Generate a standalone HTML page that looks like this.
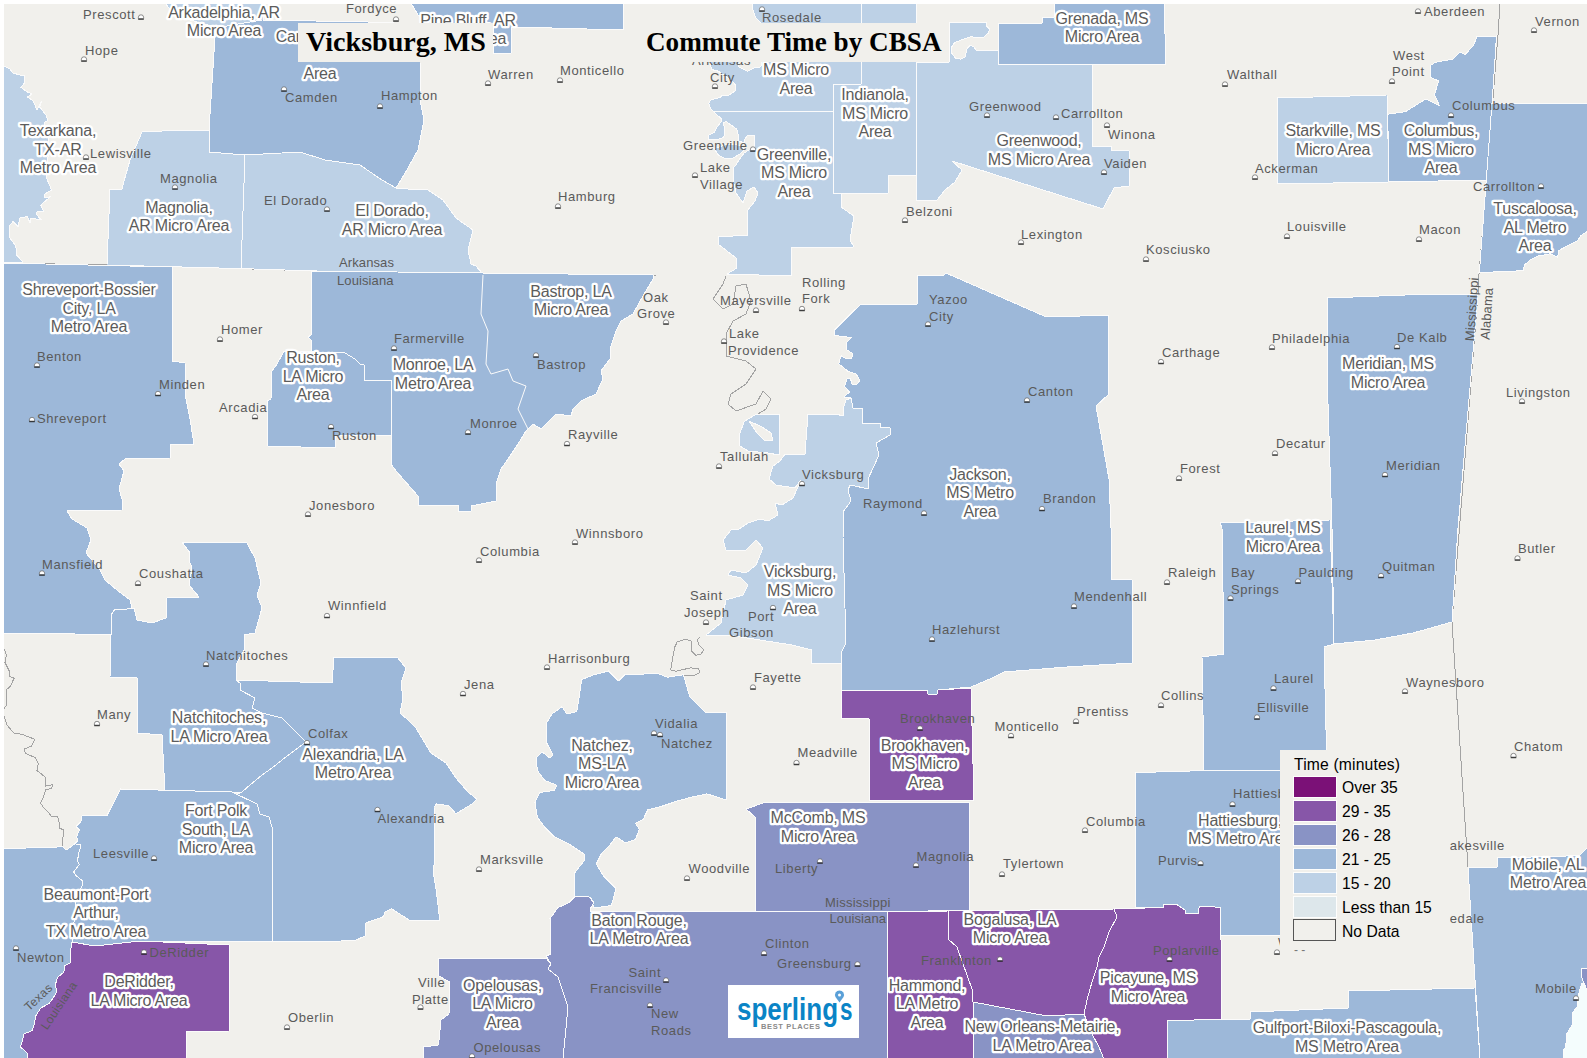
<!DOCTYPE html><html><head><meta charset="utf-8"><style>html,body{margin:0;padding:0;background:#fff;}svg{display:block;}.cb{font-family:"Liberation Sans",sans-serif;font-size:16px;fill:#5c5c5c;stroke:#fff;stroke-width:4.6px;stroke-linejoin:round;paint-order:stroke fill;text-anchor:middle;letter-spacing:-0.2px}.ct{font-family:"Liberation Sans",sans-serif;font-size:13px;fill:#5a5a5a;letter-spacing:0.6px}.ti{font-family:"Liberation Serif",serif;font-size:27px;font-weight:bold;fill:#000}.lg{font-family:"Liberation Sans",sans-serif;font-size:15.7px;fill:#000}</style></head><body>
<svg width="1587" height="1058" viewBox="0 0 1587 1058">
<rect x="4" y="4" width="1583" height="1054" fill="#f1f0ec"/>
<polyline points="3,263 107,265 230,268.3 310,270.8 400,273.4 483.5,274.6 656,276 726,276" fill="none" stroke="#a3a3a3" stroke-width="1" shape-rendering="crispEdges"/>
<polyline points="726,276 723,284 713,299 723,309 733,304 736,286 746,284 751,301 746,314 733,321 726,334 726,356 746,361 756,369 746,384 731,394 728,404 736,411 756,404 763,391 771,399 766,409 758,414" fill="none" stroke="#a3a3a3" stroke-width="1" shape-rendering="crispEdges"/>
<polyline points="699.7,636.8 697.7,639.4 698.4,644.7 703.7,650 701,654 695.7,655.3 691.8,651.3 691,640.7 685,639.4 677.2,642 674.6,647.4 670.6,670 675.9,671.2 690.4,667.9 698.4,668.5 699.7,672.5 694.4,675.2 683.8,675.2" fill="none" stroke="#a3a3a3" stroke-width="1" shape-rendering="crispEdges"/>
<polyline points="1500,3 1498,35 1479,274 1478,294 1452,622 1463,792 1468,867 1480,1059" fill="none" stroke="#a3a3a3" stroke-width="1" shape-rendering="crispEdges"/>
<polyline points="4.3,649 6.4,655.5 5,662.6 9.2,671 10,676.8 14.2,678.2 10,686.7 6.4,689.6 7,696.7 6.4,705.2 3,710" fill="none" stroke="#a3a3a3" stroke-width="1" shape-rendering="crispEdges"/>
<polyline points="4.3,716.5 7,725 14.2,733.5 22.7,734.3 27,736.4 34.8,739.2 31.2,746.3 24.1,749 25.5,753.4 35.5,757.7 38.3,763.3 36.9,770.4 45.5,777.4 45.5,786 52.9,784.7 51.6,788.4 45.5,789.7 43.6,797 40.6,803 43,806.9 48,811.8 51.6,816.7 57.8,816.7 59,821.6 59,827.8 64,830.2 62.7,838.8 62.7,846.2" fill="none" stroke="#a3a3a3" stroke-width="1" shape-rendering="crispEdges"/>
<polygon points="165,3 263,3 263,20 240,26 215,27 190,20 172,12" fill="#bdd1e6" stroke="#fbfbfb" stroke-width="1" stroke-linejoin="round" shape-rendering="crispEdges"/>
<polygon points="411,3 623,3 623,30 516,27 511,28 511,53 493,53 493,28 430,24 418,15" fill="#9db8d9" stroke="#fbfbfb" stroke-width="1" stroke-linejoin="round" shape-rendering="crispEdges"/>
<polygon points="215,28 262,20 368,22 420,24 420,62 421,105 424,120 418,150 404,175 396,188 382,180 360,165 325,160 300,152 245,155 209,152 209,130 215,37" fill="#9db8d9" stroke="#fbfbfb" stroke-width="1" stroke-linejoin="round" shape-rendering="crispEdges"/>
<polygon points="3,66 9.5,68.5 13,73 20,75 24.6,76 24.6,82.7 21,87.4 27.4,92 32,94 27.4,97 33,100.6 37,110 40,104 41.6,101.6 39.7,107 46,115 48,120.5 45,122 44.4,126 48,138 49,149 47,165 46.6,178 51.6,190 45,194 44,198 50.7,196.6 40.8,205 44,212 38,211 35.8,214 41.6,220 30.8,218 30,223 27.5,216.6 20,218 18,226.6 13,221.6 10,225 9,237 15.8,245.7 16.6,255 23,262 3,262" fill="#bdd1e6" stroke="#fbfbfb" stroke-width="1" stroke-linejoin="round" shape-rendering="crispEdges"/>
<polygon points="107,265 110,189 122,189 124,181 130,160 142,132 182,130 209,130 209,152 245,155 241,268.6" fill="#bdd1e6" stroke="#fbfbfb" stroke-width="1" stroke-linejoin="round" shape-rendering="crispEdges"/>
<polygon points="245,155 300,152 325,160 360,165 382,180 396,188 408,189 428,190 443,200 456,218 473,230 468,250 471,264 476,266 483.5,274.6 400,273.4 310,270.8 241,268.6" fill="#bdd1e6" stroke="#fbfbfb" stroke-width="1" stroke-linejoin="round" shape-rendering="crispEdges"/>
<polygon points="3,263 172,267 172,361 185,363 186,399 190,419 194,444 170,444 170,458 125,459 119,464 124,471 119,489 122,499 122,510 67,511 72,519 87,528 91,540 86,553 100,570 105,580 117,590 130,600 132,608 122,610 115,609 111,615 111,635 75,634 3,633" fill="#9db8d9" stroke="#fbfbfb" stroke-width="1" stroke-linejoin="round" shape-rendering="crispEdges"/>
<polygon points="311,271 311,335 308,337 311,340 311,353 345,353 355,359 360,364 364,365 364,380 391,380 391,464 396,471 418,496 418,505 458,505 458,511 471,511 471,506 496,501 496,484 501,469 508,459 518,444 526,431 533,424 541,429 546,424 556,414 571,416 573,409 581,401 596,394 603,379 601,371 610,359 611,346 616,331 621,321 633,314 643,296 653,279 653,275" fill="#9db8d9" stroke="#fbfbfb" stroke-width="1" stroke-linejoin="round" shape-rendering="crispEdges"/>
<polygon points="272,371 277,364 284,351 345,353 355,359 360,364 364,365 364,380 391,380 391,435 335,435 335,448 267,446 267,401 271,399" fill="#9db8d9" stroke="#fbfbfb" stroke-width="1" stroke-linejoin="round" shape-rendering="crispEdges"/>
<polygon points="111,615 115,609 122,610 132,608 134,608 137,620 152,623 166,618 167,598 199,597 189,585 192,568 189,560 190,553 182,542 247,543 255,558 261,583 257,595 262,608 255,633 244,635 245,648 237,663 236,680 240,683 240,690 255,698 252,708 262,713 282,718 297,733 306,742 282,760 272,768 262,775 250,785 242,792 232,793 165,792 162,735 137,733 137,678 110,677 111,635" fill="#9db8d9" stroke="#fbfbfb" stroke-width="1" stroke-linejoin="round" shape-rendering="crispEdges"/>
<polygon points="236,680 332,683 334,657 397,657 406,668 401,683 403,698 400,713 408,720 416,728 423,740 431,753 446,763 456,778 468,792 476.7,799 472,804 455.8,813.8 449,805.7 436.5,804 434,807 434.9,860 433,870 436.5,892.5 439.7,920 409,920 391.4,908.6 385,912 383.4,916.7 365.7,923 365,936 354.5,940.8 272,942 272,827 269,817 260,814 257,804 232,796 242,792 250,785 262,775 272,768 282,760 306,742 297,733 282,718 262,713 252,708 255,698 240,690 240,683" fill="#9db8d9" stroke="#fbfbfb" stroke-width="1" stroke-linejoin="round" shape-rendering="crispEdges"/>
<polygon points="120.5,789 232,792 257,804 260,814 269,817 272,827 272,942 140,941 95,946 72,942 77,892 81,888 83,884.3 82.3,880.6 76.2,875.7 73.7,872 79.3,864.6 77.4,861 78.7,853.6 81,845 75,843.7 77.4,841.3 76.8,836.4 79.3,830 76.2,826.5 81,821.6 81.7,816 107,815.5" fill="#9db8d9" stroke="#fbfbfb" stroke-width="1" stroke-linejoin="round" shape-rendering="crispEdges"/>
<polygon points="3,848.7 27,848 62.7,846.8 66.4,850 75,843.7 81,845 78.7,853.6 77.4,861 79.3,864.6 73.7,872 76.2,875.7 82.3,880.6 83,884.3 81,888 77,892 72,942 70,955 70.4,962.8 64.8,965.6 63.9,972 57.4,977.6 55.6,984 56.5,992.4 51.9,999.8 49,1003.5 40.7,1008 36,1015.6 34.3,1023.9 32.4,1030.4 24,1034 22.2,1041.5 20.4,1047 26.9,1052.6 27.8,1059 3,1059" fill="#9db8d9" stroke="#fbfbfb" stroke-width="1" stroke-linejoin="round" shape-rendering="crispEdges"/>
<polygon points="72,942 95,946 140,941 229,945 229,1031 186,1032 186,1059 27.8,1059 26.9,1052.6 20.4,1047 22.2,1041.5 24,1034 32.4,1030.4 34.3,1023.9 36,1015.6 40.7,1008 49,1003.5 51.9,999.8 56.5,992.4 55.6,984 57.4,977.6 63.9,972 64.8,965.6 70.4,962.8 70,955" fill="#8756a8" stroke="#fbfbfb" stroke-width="1" stroke-linejoin="round" shape-rendering="crispEdges"/>
<polygon points="581.6,679.6 593.9,674.7 608.6,671 618.4,681 624.6,674.7 657.7,673.5 667.6,677.2 683.5,674.7 689.7,696.8 702,709 705.6,712.8 726.5,712.8 726.5,800 706.9,793.9 689.7,797.6 677.4,801 662.6,806 647.9,809.8 643,819.7 635.6,823.3 639.3,829.5 635.6,839.3 625.8,843 616,836.9 608.6,846.7 601.2,854 596.3,863.9 603.7,876.2 616,888.4 613.5,898.3 611,905.6 594,908 591,898 574,896 574,873.7 584,861 584,854 569,844 554.6,836.9 544.7,827 537.4,817.2 535,802.5 539.8,792.6 554.6,790.2 557,785.3 544.7,780.4 537.4,770.5 536,758 542.3,752 549.6,758 553,755 547,743.5 546,724 552,714 562,706.7 566.8,714 576.7,711.6 579,698" fill="#9db8d9" stroke="#fbfbfb" stroke-width="1" stroke-linejoin="round" shape-rendering="crispEdges"/>
<polygon points="438.5,958 546,958 551,964 548,969 558,977 568,1007 563,1059 423,1059 423,1047 438.5,1045 441,1020 449,1014 449.7,982 438.5,975.7" fill="#8993c5" stroke="#fbfbfb" stroke-width="1" stroke-linejoin="round" shape-rendering="crispEdges"/>
<polygon points="590,911 755,911 887,912 888,1059 563,1059 568,1007 558,977 548,969 551,964 546,956 551,954 550,918.6 558,907.5 569,902.7 575,896.3 589,897 594,902.7 591,907.5" fill="#8993c5" stroke="#fbfbfb" stroke-width="1" stroke-linejoin="round" shape-rendering="crispEdges"/>
<polygon points="755,911 755,817 746,809 766,802 969,802 970,910 887,912" fill="#8993c5" stroke="#fbfbfb" stroke-width="1" stroke-linejoin="round" shape-rendering="crispEdges"/>
<polygon points="841,690 927,690 928,694 937,694 938,690 971,688 974,800 869,800 869,719 841,718" fill="#8756a8" stroke="#fbfbfb" stroke-width="1" stroke-linejoin="round" shape-rendering="crispEdges"/>
<polygon points="887,912 948,911 948,939 957,947 972,989 973,1002 974,1059 888,1059" fill="#8756a8" stroke="#fbfbfb" stroke-width="1" stroke-linejoin="round" shape-rendering="crispEdges"/>
<polygon points="948,911 1114,909 1117,917 1109,932 1104,947 1099,957 1097,967 1092,982 1087,1000 1084,1014 1047,1016 973,1002 972,989 957,947 948,939" fill="#8756a8" stroke="#fbfbfb" stroke-width="1" stroke-linejoin="round" shape-rendering="crispEdges"/>
<polygon points="973,1002 1047,1016 1084,1014 1092,1034 1099,1047 1104,1059 974,1059" fill="#8993c5" stroke="#fbfbfb" stroke-width="1" stroke-linejoin="round" shape-rendering="crispEdges"/>
<polygon points="1114,909 1163.8,907.4 1163.8,904.5 1176.6,904.5 1185,910 1185,913.6 1198,913.6 1199.3,906 1220.6,907.4 1222,1019.4 1167,1021 1167,1059 1104,1059 1099,1047 1092,1034 1084,1014 1087,1000 1092,982 1097,967 1099,957 1104,947 1109,932 1117,917" fill="#8756a8" stroke="#fbfbfb" stroke-width="1" stroke-linejoin="round" shape-rendering="crispEdges"/>
<polygon points="1167,1021 1222,1019 1250,1019 1250,1012 1348,1008 1348,991 1475,988 1480,1059 1167,1059" fill="#9db8d9" stroke="#fbfbfb" stroke-width="1" stroke-linejoin="round" shape-rendering="crispEdges"/>
<polygon points="1135.5,772.6 1203.5,770.6 1300,770.6 1300,935.7 1220.6,935.7 1220.6,907.4 1199.3,906 1198,913.6 1185,913.6 1185,910 1176.6,904.5 1163.8,904.5 1163.8,907.4 1135.5,907.4" fill="#9db8d9" stroke="#fbfbfb" stroke-width="1" stroke-linejoin="round" shape-rendering="crispEdges"/>
<polygon points="1220,523 1330,520 1334,644 1324,647 1327,770 1204,770 1202,657 1224,654 1222,528" fill="#9db8d9" stroke="#fbfbfb" stroke-width="1" stroke-linejoin="round" shape-rendering="crispEdges"/>
<polygon points="1327,298 1405,295 1478,294 1458,528 1452,622 1413,633 1375,640 1334,644 1332,528 1328,404" fill="#9db8d9" stroke="#fbfbfb" stroke-width="1" stroke-linejoin="round" shape-rendering="crispEdges"/>
<polygon points="917,276 944,275 946,273 1044,316 1080,316 1108,315 1109,394 1096,406 1109,479 1111,528 1111,579 1131,579 1132,580 1132,663 1067,667 1004,672 992,678 971,687 938,690 937,694 928,694 927,690 841,690 841,653 846,643 843,537 843,512 851,501 848,490 850,485 869,489 868,479 879,455 876,443 890,435 890,428 880,427 880,423 862,423 862,408 853,408 851,398 844,397 849.5,392 844.4,386.4 847.2,378.4 850.6,378.4 851.7,384 856.3,385 859.7,380.7 856.3,374 848.3,371.6 838.7,363.7 841,355.8 847.2,359 851.7,358 852.9,353.5 847,350 846,343.3 851.7,337.6 834.7,335.4 834.7,329.7 860.8,304 917,304" fill="#9db8d9" stroke="#fbfbfb" stroke-width="1" stroke-linejoin="round" shape-rendering="crispEdges"/>
<polygon points="808,414 836,414 843,416 843,409 846,400 851,398 853,408 862,408 862,423 880,423 880,427 890,428 890,435 876,443 879,455 868,479 869,489 850,485 848,490 851,501 843,512 843,537 846,643 841,653 841,663 811,663 812,650 792,645 728,635 706,635 721,623 726,600 743,595 748,585 741,578 728,575 731,570 746,573 756,565 763,548 756,540 746,550 726,550 723,540 731,530 739,529 748,523 760,519 768,521 778,515 775,503 782,505 793,498 801,480 795,488 776,485 769,479 773,466 780,461 785,454 805,454" fill="#bdd1e6" stroke="#fbfbfb" stroke-width="1" stroke-linejoin="round" shape-rendering="crispEdges"/>
<polygon points="757,414 779,414 779,455 768,453 748,451 740,446 739,436 744,422 748,419" fill="#bdd1e6" stroke="#fbfbfb" stroke-width="1" stroke-linejoin="round" shape-rendering="crispEdges"/>
<polygon points="749,421 757,433 765,441 773,440 771,433 762,427" fill="#f1f0ec" stroke="#fbfbfb" stroke-width="1" stroke-linejoin="round" shape-rendering="crispEdges"/>
<polygon points="713.6,111.7 833,111.7 833,193 841,194 841,207 854,216 850,240 854,247 791,248 791,276 727,274 737,268 736,258 718,244 718,237 748,235 747,211 755,201 758,193 754,187 747,191 743,203 736,193 733,179 733,168 736.3,164.4 739.7,158.8 744.2,153 749.3,149.7 754.4,146.3 754.4,135.5 747.6,135.5 744.8,139 744.8,142.9 738.5,141.2 738,133.8 736.8,129.3 726,121.3 723.8,122.5 724.4,133.8 723.8,137.2 717,140 708.5,139.5 709,135 714.7,132 716.4,128 721.5,121.3 721,118.5" fill="#bdd1e6" stroke="#fbfbfb" stroke-width="1" stroke-linejoin="round" shape-rendering="crispEdges"/>
<polygon points="714,148.5 725,145 735,144.5 742,146.3 744.2,149.7 739.7,154.2 731.7,158.8 725.5,158.8 718.7,155.4" fill="#bdd1e6" stroke="#fbfbfb" stroke-width="1" stroke-linejoin="round" shape-rendering="crispEdges"/>
<polygon points="752,3 861,3 861,84 833,84 833,111.7 713.6,111.7 710.6,108.6 708.9,103.5 710.6,100 720,97.5 722.5,95 729.3,95 735.3,90.7 735.3,84.8 732.7,81.4 718.3,71.2 711.5,69.5 709.8,60 738,60 738.7,66.9 747.2,71.2 754.8,67.8 760.8,66.9 762,60 760,22 756,18 753.5,12 752.5,7" fill="#bdd1e6" stroke="#fbfbfb" stroke-width="1" stroke-linejoin="round" shape-rendering="crispEdges"/>
<polygon points="861,3 916,3 916,175 888,175 888,193 833,193 833,84 861,84" fill="#bdd1e6" stroke="#fbfbfb" stroke-width="1" stroke-linejoin="round" shape-rendering="crispEdges"/>
<polygon points="916,62 949,62 949,22.7 986.4,22.7 986.7,26.3 989.5,29.2 988.4,33 983.9,37 981,38 973.6,37.7 972,36.3 969.7,37 961.2,40 954.4,42.8 951.5,47.3 952,53.5 955.5,58 960.6,59.2 965,57 967.4,47.9 970.8,45 974.2,47.3 976.5,50.7 998,50.7 998,64 1092,64 1092,146 1111,146 1111,150 1129,151 1129,186 1114,188 1103,209 952,161 962,170 955,182 945,190 937,200 916,200" fill="#bdd1e6" stroke="#fbfbfb" stroke-width="1" stroke-linejoin="round" shape-rendering="crispEdges"/>
<polygon points="1054,3 1164,3 1166,64 998,64 998,23 1042,23 1042,17 1054,17" fill="#9db8d9" stroke="#fbfbfb" stroke-width="1" stroke-linejoin="round" shape-rendering="crispEdges"/>
<polygon points="1277,98 1387,95 1389,182 1278,184" fill="#bdd1e6" stroke="#fbfbfb" stroke-width="1" stroke-linejoin="round" shape-rendering="crispEdges"/>
<polygon points="1387.7,114.2 1405.5,111.6 1426,98.9 1439.5,105.7 1434.4,94.6 1438.7,81 1431,77.6 1430.2,65.7 1435.3,62.3 1453,59 1460,52 1465,54.7 1473.5,45.3 1477,36.4 1496.5,36 1487,180 1389,182" fill="#9db8d9" stroke="#fbfbfb" stroke-width="1" stroke-linejoin="round" shape-rendering="crispEdges"/>
<polygon points="1492,103 1588,103 1588,231 1581,235.5 1577.4,240.8 1568.3,245.4 1558.5,250.7 1557.7,257.5 1550,253.7 1546.4,254.5 1538,256 1530.5,259.8 1524.5,265 1523,270.7 1479,272.6 1480,264" fill="#9db8d9" stroke="#fbfbfb" stroke-width="1" stroke-linejoin="round" shape-rendering="crispEdges"/>
<polygon points="1468,868 1497,867 1497,858 1579.6,855.6 1588,847 1588,1059 1480,1059" fill="#9db8d9" stroke="#fbfbfb" stroke-width="1" stroke-linejoin="round" shape-rendering="crispEdges"/>
<polygon points="1588,982 1581.5,984 1577.8,997 1577.8,1006 1573,1012 1572,1025 1566.7,1034 1565.7,1047 1563,1050 1563,1059 1588,1059" fill="#f4fdfd" stroke="#fbfbfb" stroke-width="1" stroke-linejoin="round" shape-rendering="crispEdges"/>
<polygon points="1581.5,969 1588,968 1588,992 1583,981 1581.5,977" fill="#8993c5" stroke="#fbfbfb" stroke-width="1" stroke-linejoin="round" shape-rendering="crispEdges"/>
<polyline points="483,275 481,314 488,331 486,364 491,374 508,369 513,381 526,386 518,409 528,429" fill="none" stroke="#fbfbfb" stroke-width="1"/>
<text class="ct" x="339" y="267" style="letter-spacing:0.1px">Arkansas</text>
<text class="ct" x="337" y="285" style="letter-spacing:0.1px">Louisiana</text>
<text class="ct" x="825" y="907" style="letter-spacing:0.25px">Mississippi</text>
<text class="ct" x="829.5" y="923" style="letter-spacing:0.1px">Louisiana</text>
<text class="ct" transform="translate(1474,341.5) rotate(-86)" x="0" y="0" style="letter-spacing:0.1px">Mississippi</text>
<text class="ct" transform="translate(1489.5,340) rotate(-86)" x="0" y="0" style="letter-spacing:0.1px">Alabama</text>
<text class="ct" transform="translate(29,1011.5) rotate(-43)" x="0" y="0" style="font-size:12px;letter-spacing:0.4px">Texas</text>
<text class="ct" transform="translate(47,1030.5) rotate(-56)" x="0" y="0" style="font-size:12px;letter-spacing:0.4px">Louisiana</text>
<text class="ct" x="83" y="19">Prescott</text>
<text class="ct" x="85" y="55">Hope</text>
<text class="ct" x="90" y="158">Lewisville</text>
<text class="ct" x="160" y="183">Magnolia</text>
<text class="ct" x="264" y="205">El Dorado</text>
<text class="ct" x="285" y="102">Camden</text>
<text class="ct" x="381" y="100">Hampton</text>
<text class="ct" x="346" y="13">Fordyce</text>
<text class="ct" x="488" y="79">Warren</text>
<text class="ct" x="560" y="75">Monticello</text>
<text class="ct" x="558" y="201">Hamburg</text>
<text class="ct" x="692" y="65">Arkansas</text>
<text class="ct" x="710" y="81.5">City</text>
<text class="ct" x="683" y="150">Greenville</text>
<text class="ct" x="700" y="172">Lake</text>
<text class="ct" x="700" y="188.5">Village</text>
<text class="ct" x="762" y="22">Rosedale</text>
<text class="ct" x="906" y="216">Belzoni</text>
<text class="ct" x="969" y="111">Greenwood</text>
<text class="ct" x="1061" y="118">Carrollton</text>
<text class="ct" x="1108" y="139">Winona</text>
<text class="ct" x="1104" y="168">Vaiden</text>
<text class="ct" x="1021" y="239">Lexington</text>
<text class="ct" x="1146" y="254">Kosciusko</text>
<text class="ct" x="1424" y="15.5">Aberdeen</text>
<text class="ct" x="1535" y="25.5">Vernon</text>
<text class="ct" x="1393" y="59.5">West</text>
<text class="ct" x="1392" y="76.0">Point</text>
<text class="ct" x="1227" y="79">Walthall</text>
<text class="ct" x="1452" y="110">Columbus</text>
<text class="ct" x="1255" y="173">Ackerman</text>
<text class="ct" x="1473" y="190.5">Carrollton</text>
<text class="ct" x="1287" y="231">Louisville</text>
<text class="ct" x="1419" y="234">Macon</text>
<text class="ct" x="221" y="334">Homer</text>
<text class="ct" x="37" y="361">Benton</text>
<text class="ct" x="159" y="389">Minden</text>
<text class="ct" x="37" y="423">Shreveport</text>
<text class="ct" x="219" y="412">Arcadia</text>
<text class="ct" x="332" y="440">Ruston</text>
<text class="ct" x="309" y="510">Jonesboro</text>
<text class="ct" x="394" y="343">Farmerville</text>
<text class="ct" x="537" y="369">Bastrop</text>
<text class="ct" x="470" y="428">Monroe</text>
<text class="ct" x="568" y="439">Rayville</text>
<text class="ct" x="643" y="301.5">Oak</text>
<text class="ct" x="637" y="318.0">Grove</text>
<text class="ct" x="720" y="305">Mayersville</text>
<text class="ct" x="729" y="338">Lake</text>
<text class="ct" x="728" y="354.5">Providence</text>
<text class="ct" x="720" y="461">Tallulah</text>
<text class="ct" x="802" y="286.5">Rolling</text>
<text class="ct" x="802" y="303.0">Fork</text>
<text class="ct" x="929" y="304">Yazoo</text>
<text class="ct" x="929" y="320.5">City</text>
<text class="ct" x="1028" y="396">Canton</text>
<text class="ct" x="802" y="479">Vicksburg</text>
<text class="ct" x="863" y="508">Raymond</text>
<text class="ct" x="1043" y="503">Brandon</text>
<text class="ct" x="1162" y="356.5">Carthage</text>
<text class="ct" x="1180" y="473">Forest</text>
<text class="ct" x="1272" y="343">Philadelphia</text>
<text class="ct" x="1397" y="341.5">De Kalb</text>
<text class="ct" x="1506" y="397">Livingston</text>
<text class="ct" x="1276" y="448">Decatur</text>
<text class="ct" x="1386" y="470">Meridian</text>
<text class="ct" x="42" y="569">Mansfield</text>
<text class="ct" x="139" y="578">Coushatta</text>
<text class="ct" x="206" y="660">Natchitoches</text>
<text class="ct" x="328" y="610">Winnfield</text>
<text class="ct" x="97" y="718.5">Many</text>
<text class="ct" x="308" y="738">Colfax</text>
<text class="ct" x="480" y="556">Columbia</text>
<text class="ct" x="576" y="538">Winnsboro</text>
<text class="ct" x="548" y="662.5">Harrisonburg</text>
<text class="ct" x="464" y="689">Jena</text>
<text class="ct" x="690" y="600">Saint</text>
<text class="ct" x="684" y="616.5">Joseph</text>
<text class="ct" x="748" y="620.5">Port</text>
<text class="ct" x="729" y="637.0">Gibson</text>
<text class="ct" x="754" y="682">Fayette</text>
<text class="ct" x="655" y="728">Vidalia</text>
<text class="ct" x="661" y="747.5">Natchez</text>
<text class="ct" x="932" y="634">Hazlehurst</text>
<text class="ct" x="1074" y="601">Mendenhall</text>
<text class="ct" x="900" y="723">Brookhaven</text>
<text class="ct" x="994.5" y="731">Monticello</text>
<text class="ct" x="1077" y="716">Prentiss</text>
<text class="ct" x="797.5" y="757">Meadville</text>
<text class="ct" x="1168" y="577">Raleigh</text>
<text class="ct" x="1161" y="700">Collins</text>
<text class="ct" x="1518" y="553">Butler</text>
<text class="ct" x="1382" y="571">Quitman</text>
<text class="ct" x="1298.5" y="577">Paulding</text>
<text class="ct" x="1231" y="577">Bay</text>
<text class="ct" x="1231" y="593.5">Springs</text>
<text class="ct" x="1274" y="683">Laurel</text>
<text class="ct" x="1257" y="712">Ellisville</text>
<text class="ct" x="1406" y="687">Waynesboro</text>
<text class="ct" x="1514" y="751">Chatom</text>
<text class="ct" x="93" y="858">Leesville</text>
<text class="ct" x="17" y="962">Newton</text>
<text class="ct" x="149.5" y="957">DeRidder</text>
<text class="ct" x="288" y="1022">Oberlin</text>
<text class="ct" x="377.5" y="823">Alexandria</text>
<text class="ct" x="480" y="864">Marksville</text>
<text class="ct" x="688.5" y="872.5">Woodville</text>
<text class="ct" x="418" y="987">Ville</text>
<text class="ct" x="412" y="1003.5">Platte</text>
<text class="ct" x="628.5" y="976.5">Saint</text>
<text class="ct" x="590" y="993.0">Francisville</text>
<text class="ct" x="651" y="1018">New</text>
<text class="ct" x="651" y="1034.5">Roads</text>
<text class="ct" x="473.5" y="1052">Opelousas</text>
<text class="ct" x="765" y="948">Clinton</text>
<text class="ct" x="777" y="968">Greensburg</text>
<text class="ct" x="775" y="872.5">Liberty</text>
<text class="ct" x="916.5" y="861">Magnolia</text>
<text class="ct" x="1003" y="868">Tylertown</text>
<text class="ct" x="1086" y="826">Columbia</text>
<text class="ct" x="921" y="964.5">Franklinton</text>
<text class="ct" x="1153" y="954.5">Poplarville</text>
<text class="ct" x="1158" y="864.5">Purvis</text>
<text class="ct" x="1233" y="798">Hattiesburg</text>
<text class="ct" x="1434" y="850">Leakesville</text>
<text class="ct" x="1427" y="923">Lucedale</text>
<text class="ct" x="1535" y="993">Mobile</text>
<text class="ct" x="1278" y="947">Wiggins</text>
<path d="M138.4,18.6 v-1.4 a2.6,2.4 0 0 1 5.2,0 v1.4 z" fill="#fff" stroke="#444" stroke-width="0.6"/><rect x="138.2" y="18.7" width="5.6" height="1" fill="#222"/>
<path d="M81.4,60.6 v-1.4 a2.6,2.4 0 0 1 5.2,0 v1.4 z" fill="#fff" stroke="#444" stroke-width="0.6"/><rect x="81.2" y="60.7" width="5.6" height="1" fill="#222"/>
<path d="M83.4,158.6 v-1.4 a2.6,2.4 0 0 1 5.2,0 v1.4 z" fill="#fff" stroke="#444" stroke-width="0.6"/><rect x="83.2" y="158.7" width="5.6" height="1" fill="#222"/>
<path d="M172.4,188.6 v-1.4 a2.6,2.4 0 0 1 5.2,0 v1.4 z" fill="#fff" stroke="#444" stroke-width="0.6"/><rect x="172.2" y="188.7" width="5.6" height="1" fill="#222"/>
<path d="M324.4,210.6 v-1.4 a2.6,2.4 0 0 1 5.2,0 v1.4 z" fill="#fff" stroke="#444" stroke-width="0.6"/><rect x="324.2" y="210.7" width="5.6" height="1" fill="#222"/>
<path d="M281.4,90.6 v-1.4 a2.6,2.4 0 0 1 5.2,0 v1.4 z" fill="#fff" stroke="#444" stroke-width="0.6"/><rect x="281.2" y="90.7" width="5.6" height="1" fill="#222"/>
<path d="M377.4,107.6 v-1.4 a2.6,2.4 0 0 1 5.2,0 v1.4 z" fill="#fff" stroke="#444" stroke-width="0.6"/><rect x="377.2" y="107.7" width="5.6" height="1" fill="#222"/>
<path d="M393.4,20.6 v-1.4 a2.6,2.4 0 0 1 5.2,0 v1.4 z" fill="#fff" stroke="#444" stroke-width="0.6"/><rect x="393.2" y="20.7" width="5.6" height="1" fill="#222"/>
<path d="M485.4,84.6 v-1.4 a2.6,2.4 0 0 1 5.2,0 v1.4 z" fill="#fff" stroke="#444" stroke-width="0.6"/><rect x="485.2" y="84.7" width="5.6" height="1" fill="#222"/>
<path d="M557.4,81.6 v-1.4 a2.6,2.4 0 0 1 5.2,0 v1.4 z" fill="#fff" stroke="#444" stroke-width="0.6"/><rect x="557.2" y="81.7" width="5.6" height="1" fill="#222"/>
<path d="M555.4,207.6 v-1.4 a2.6,2.4 0 0 1 5.2,0 v1.4 z" fill="#fff" stroke="#444" stroke-width="0.6"/><rect x="555.2" y="207.7" width="5.6" height="1" fill="#222"/>
<path d="M712.4,87.6 v-1.4 a2.6,2.4 0 0 1 5.2,0 v1.4 z" fill="#fff" stroke="#444" stroke-width="0.6"/><rect x="712.2" y="87.7" width="5.6" height="1" fill="#222"/>
<path d="M750.4,150.6 v-1.4 a2.6,2.4 0 0 1 5.2,0 v1.4 z" fill="#fff" stroke="#444" stroke-width="0.6"/><rect x="750.2" y="150.7" width="5.6" height="1" fill="#222"/>
<path d="M692.4,176.6 v-1.4 a2.6,2.4 0 0 1 5.2,0 v1.4 z" fill="#fff" stroke="#444" stroke-width="0.6"/><rect x="692.2" y="176.7" width="5.6" height="1" fill="#222"/>
<path d="M759.4,10.6 v-1.4 a2.6,2.4 0 0 1 5.2,0 v1.4 z" fill="#fff" stroke="#444" stroke-width="0.6"/><rect x="759.2" y="10.7" width="5.6" height="1" fill="#222"/>
<path d="M902.4,221.6 v-1.4 a2.6,2.4 0 0 1 5.2,0 v1.4 z" fill="#fff" stroke="#444" stroke-width="0.6"/><rect x="902.2" y="221.7" width="5.6" height="1" fill="#222"/>
<path d="M984.4,116.6 v-1.4 a2.6,2.4 0 0 1 5.2,0 v1.4 z" fill="#fff" stroke="#444" stroke-width="0.6"/><rect x="984.2" y="116.7" width="5.6" height="1" fill="#222"/>
<path d="M1053.4,118.6 v-1.4 a2.6,2.4 0 0 1 5.2,0 v1.4 z" fill="#fff" stroke="#444" stroke-width="0.6"/><rect x="1053.2" y="118.7" width="5.6" height="1" fill="#222"/>
<path d="M1104.4,126.6 v-1.4 a2.6,2.4 0 0 1 5.2,0 v1.4 z" fill="#fff" stroke="#444" stroke-width="0.6"/><rect x="1104.2" y="126.7" width="5.6" height="1" fill="#222"/>
<path d="M1101.4,173.6 v-1.4 a2.6,2.4 0 0 1 5.2,0 v1.4 z" fill="#fff" stroke="#444" stroke-width="0.6"/><rect x="1101.2" y="173.7" width="5.6" height="1" fill="#222"/>
<path d="M1018.4,243.6 v-1.4 a2.6,2.4 0 0 1 5.2,0 v1.4 z" fill="#fff" stroke="#444" stroke-width="0.6"/><rect x="1018.2" y="243.7" width="5.6" height="1" fill="#222"/>
<path d="M1143.4,260.6 v-1.4 a2.6,2.4 0 0 1 5.2,0 v1.4 z" fill="#fff" stroke="#444" stroke-width="0.6"/><rect x="1143.2" y="260.7" width="5.6" height="1" fill="#222"/>
<path d="M1415.4,12.6 v-1.4 a2.6,2.4 0 0 1 5.2,0 v1.4 z" fill="#fff" stroke="#444" stroke-width="0.6"/><rect x="1415.2" y="12.7" width="5.6" height="1" fill="#222"/>
<path d="M1531.4,31.6 v-1.4 a2.6,2.4 0 0 1 5.2,0 v1.4 z" fill="#fff" stroke="#444" stroke-width="0.6"/><rect x="1531.2" y="31.7" width="5.6" height="1" fill="#222"/>
<path d="M1389.4,82.6 v-1.4 a2.6,2.4 0 0 1 5.2,0 v1.4 z" fill="#fff" stroke="#444" stroke-width="0.6"/><rect x="1389.2" y="82.7" width="5.6" height="1" fill="#222"/>
<path d="M1222.4,85.6 v-1.4 a2.6,2.4 0 0 1 5.2,0 v1.4 z" fill="#fff" stroke="#444" stroke-width="0.6"/><rect x="1222.2" y="85.7" width="5.6" height="1" fill="#222"/>
<path d="M1448.4,116.6 v-1.4 a2.6,2.4 0 0 1 5.2,0 v1.4 z" fill="#fff" stroke="#444" stroke-width="0.6"/><rect x="1448.2" y="116.7" width="5.6" height="1" fill="#222"/>
<path d="M1252.4,178.6 v-1.4 a2.6,2.4 0 0 1 5.2,0 v1.4 z" fill="#fff" stroke="#444" stroke-width="0.6"/><rect x="1252.2" y="178.7" width="5.6" height="1" fill="#222"/>
<path d="M1538.4,187.6 v-1.4 a2.6,2.4 0 0 1 5.2,0 v1.4 z" fill="#fff" stroke="#444" stroke-width="0.6"/><rect x="1538.2" y="187.7" width="5.6" height="1" fill="#222"/>
<path d="M1284.4,237.6 v-1.4 a2.6,2.4 0 0 1 5.2,0 v1.4 z" fill="#fff" stroke="#444" stroke-width="0.6"/><rect x="1284.2" y="237.7" width="5.6" height="1" fill="#222"/>
<path d="M1416.4,240.6 v-1.4 a2.6,2.4 0 0 1 5.2,0 v1.4 z" fill="#fff" stroke="#444" stroke-width="0.6"/><rect x="1416.2" y="240.7" width="5.6" height="1" fill="#222"/>
<path d="M217.4,340.6 v-1.4 a2.6,2.4 0 0 1 5.2,0 v1.4 z" fill="#fff" stroke="#444" stroke-width="0.6"/><rect x="217.2" y="340.7" width="5.6" height="1" fill="#222"/>
<path d="M34.4,366.6 v-1.4 a2.6,2.4 0 0 1 5.2,0 v1.4 z" fill="#fff" stroke="#444" stroke-width="0.6"/><rect x="34.2" y="366.7" width="5.6" height="1" fill="#222"/>
<path d="M155.4,395.1 v-1.4 a2.6,2.4 0 0 1 5.2,0 v1.4 z" fill="#fff" stroke="#444" stroke-width="0.6"/><rect x="155.2" y="395.2" width="5.6" height="1" fill="#222"/>
<path d="M29.4,421.1 v-1.4 a2.6,2.4 0 0 1 5.2,0 v1.4 z" fill="#fff" stroke="#444" stroke-width="0.6"/><rect x="29.2" y="421.2" width="5.6" height="1" fill="#222"/>
<path d="M252.4,418.1 v-1.4 a2.6,2.4 0 0 1 5.2,0 v1.4 z" fill="#fff" stroke="#444" stroke-width="0.6"/><rect x="252.2" y="418.2" width="5.6" height="1" fill="#222"/>
<path d="M328.4,428.1 v-1.4 a2.6,2.4 0 0 1 5.2,0 v1.4 z" fill="#fff" stroke="#444" stroke-width="0.6"/><rect x="328.2" y="428.2" width="5.6" height="1" fill="#222"/>
<path d="M305.4,515.6 v-1.4 a2.6,2.4 0 0 1 5.2,0 v1.4 z" fill="#fff" stroke="#444" stroke-width="0.6"/><rect x="305.2" y="515.7" width="5.6" height="1" fill="#222"/>
<path d="M391.4,349.6 v-1.4 a2.6,2.4 0 0 1 5.2,0 v1.4 z" fill="#fff" stroke="#444" stroke-width="0.6"/><rect x="391.2" y="349.7" width="5.6" height="1" fill="#222"/>
<path d="M533.4,356.6 v-1.4 a2.6,2.4 0 0 1 5.2,0 v1.4 z" fill="#fff" stroke="#444" stroke-width="0.6"/><rect x="533.2" y="356.7" width="5.6" height="1" fill="#222"/>
<path d="M465.4,433.6 v-1.4 a2.6,2.4 0 0 1 5.2,0 v1.4 z" fill="#fff" stroke="#444" stroke-width="0.6"/><rect x="465.2" y="433.7" width="5.6" height="1" fill="#222"/>
<path d="M564.4,445.1 v-1.4 a2.6,2.4 0 0 1 5.2,0 v1.4 z" fill="#fff" stroke="#444" stroke-width="0.6"/><rect x="564.2" y="445.2" width="5.6" height="1" fill="#222"/>
<path d="M663.4,323.6 v-1.4 a2.6,2.4 0 0 1 5.2,0 v1.4 z" fill="#fff" stroke="#444" stroke-width="0.6"/><rect x="663.2" y="323.7" width="5.6" height="1" fill="#222"/>
<path d="M753.4,311.6 v-1.4 a2.6,2.4 0 0 1 5.2,0 v1.4 z" fill="#fff" stroke="#444" stroke-width="0.6"/><rect x="753.2" y="311.7" width="5.6" height="1" fill="#222"/>
<path d="M721.4,342.6 v-1.4 a2.6,2.4 0 0 1 5.2,0 v1.4 z" fill="#fff" stroke="#444" stroke-width="0.6"/><rect x="721.2" y="342.7" width="5.6" height="1" fill="#222"/>
<path d="M716.4,467.6 v-1.4 a2.6,2.4 0 0 1 5.2,0 v1.4 z" fill="#fff" stroke="#444" stroke-width="0.6"/><rect x="716.2" y="467.7" width="5.6" height="1" fill="#222"/>
<path d="M799.4,310.1 v-1.4 a2.6,2.4 0 0 1 5.2,0 v1.4 z" fill="#fff" stroke="#444" stroke-width="0.6"/><rect x="799.2" y="310.2" width="5.6" height="1" fill="#222"/>
<path d="M925.4,325.6 v-1.4 a2.6,2.4 0 0 1 5.2,0 v1.4 z" fill="#fff" stroke="#444" stroke-width="0.6"/><rect x="925.2" y="325.7" width="5.6" height="1" fill="#222"/>
<path d="M1024.4,401.6 v-1.4 a2.6,2.4 0 0 1 5.2,0 v1.4 z" fill="#fff" stroke="#444" stroke-width="0.6"/><rect x="1024.2" y="401.7" width="5.6" height="1" fill="#222"/>
<path d="M799.4,485.1 v-1.4 a2.6,2.4 0 0 1 5.2,0 v1.4 z" fill="#fff" stroke="#444" stroke-width="0.6"/><rect x="799.2" y="485.2" width="5.6" height="1" fill="#222"/>
<path d="M921.4,514.6 v-1.4 a2.6,2.4 0 0 1 5.2,0 v1.4 z" fill="#fff" stroke="#444" stroke-width="0.6"/><rect x="921.2" y="514.7" width="5.6" height="1" fill="#222"/>
<path d="M1039.4,510.1 v-1.4 a2.6,2.4 0 0 1 5.2,0 v1.4 z" fill="#fff" stroke="#444" stroke-width="0.6"/><rect x="1039.2" y="510.2" width="5.6" height="1" fill="#222"/>
<path d="M1158.4,363.1 v-1.4 a2.6,2.4 0 0 1 5.2,0 v1.4 z" fill="#fff" stroke="#444" stroke-width="0.6"/><rect x="1158.2" y="363.2" width="5.6" height="1" fill="#222"/>
<path d="M1176.4,479.6 v-1.4 a2.6,2.4 0 0 1 5.2,0 v1.4 z" fill="#fff" stroke="#444" stroke-width="0.6"/><rect x="1176.2" y="479.7" width="5.6" height="1" fill="#222"/>
<path d="M1269.4,348.6 v-1.4 a2.6,2.4 0 0 1 5.2,0 v1.4 z" fill="#fff" stroke="#444" stroke-width="0.6"/><rect x="1269.2" y="348.7" width="5.6" height="1" fill="#222"/>
<path d="M1394.4,348.1 v-1.4 a2.6,2.4 0 0 1 5.2,0 v1.4 z" fill="#fff" stroke="#444" stroke-width="0.6"/><rect x="1394.2" y="348.2" width="5.6" height="1" fill="#222"/>
<path d="M1519.4,402.6 v-1.4 a2.6,2.4 0 0 1 5.2,0 v1.4 z" fill="#fff" stroke="#444" stroke-width="0.6"/><rect x="1519.2" y="402.7" width="5.6" height="1" fill="#222"/>
<path d="M1272.4,454.6 v-1.4 a2.6,2.4 0 0 1 5.2,0 v1.4 z" fill="#fff" stroke="#444" stroke-width="0.6"/><rect x="1272.2" y="454.7" width="5.6" height="1" fill="#222"/>
<path d="M1382.4,476.1 v-1.4 a2.6,2.4 0 0 1 5.2,0 v1.4 z" fill="#fff" stroke="#444" stroke-width="0.6"/><rect x="1382.2" y="476.2" width="5.6" height="1" fill="#222"/>
<path d="M39.4,574.6 v-1.4 a2.6,2.4 0 0 1 5.2,0 v1.4 z" fill="#fff" stroke="#444" stroke-width="0.6"/><rect x="39.2" y="574.7" width="5.6" height="1" fill="#222"/>
<path d="M135.4,584.6 v-1.4 a2.6,2.4 0 0 1 5.2,0 v1.4 z" fill="#fff" stroke="#444" stroke-width="0.6"/><rect x="135.2" y="584.7" width="5.6" height="1" fill="#222"/>
<path d="M203.4,665.6 v-1.4 a2.6,2.4 0 0 1 5.2,0 v1.4 z" fill="#fff" stroke="#444" stroke-width="0.6"/><rect x="203.2" y="665.7" width="5.6" height="1" fill="#222"/>
<path d="M324.4,617.1 v-1.4 a2.6,2.4 0 0 1 5.2,0 v1.4 z" fill="#fff" stroke="#444" stroke-width="0.6"/><rect x="324.2" y="617.2" width="5.6" height="1" fill="#222"/>
<path d="M94.4,725.1 v-1.4 a2.6,2.4 0 0 1 5.2,0 v1.4 z" fill="#fff" stroke="#444" stroke-width="0.6"/><rect x="94.2" y="725.2" width="5.6" height="1" fill="#222"/>
<path d="M304.4,744.1 v-1.4 a2.6,2.4 0 0 1 5.2,0 v1.4 z" fill="#fff" stroke="#444" stroke-width="0.6"/><rect x="304.2" y="744.2" width="5.6" height="1" fill="#222"/>
<path d="M476.4,561.6 v-1.4 a2.6,2.4 0 0 1 5.2,0 v1.4 z" fill="#fff" stroke="#444" stroke-width="0.6"/><rect x="476.2" y="561.7" width="5.6" height="1" fill="#222"/>
<path d="M572.4,543.6 v-1.4 a2.6,2.4 0 0 1 5.2,0 v1.4 z" fill="#fff" stroke="#444" stroke-width="0.6"/><rect x="572.2" y="543.7" width="5.6" height="1" fill="#222"/>
<path d="M544.4,668.6 v-1.4 a2.6,2.4 0 0 1 5.2,0 v1.4 z" fill="#fff" stroke="#444" stroke-width="0.6"/><rect x="544.2" y="668.7" width="5.6" height="1" fill="#222"/>
<path d="M460.4,695.1 v-1.4 a2.6,2.4 0 0 1 5.2,0 v1.4 z" fill="#fff" stroke="#444" stroke-width="0.6"/><rect x="460.2" y="695.2" width="5.6" height="1" fill="#222"/>
<path d="M703.4,623.6 v-1.4 a2.6,2.4 0 0 1 5.2,0 v1.4 z" fill="#fff" stroke="#444" stroke-width="0.6"/><rect x="703.2" y="623.7" width="5.6" height="1" fill="#222"/>
<path d="M770.4,609.1 v-1.4 a2.6,2.4 0 0 1 5.2,0 v1.4 z" fill="#fff" stroke="#444" stroke-width="0.6"/><rect x="770.2" y="609.2" width="5.6" height="1" fill="#222"/>
<path d="M750.4,688.6 v-1.4 a2.6,2.4 0 0 1 5.2,0 v1.4 z" fill="#fff" stroke="#444" stroke-width="0.6"/><rect x="750.2" y="688.7" width="5.6" height="1" fill="#222"/>
<path d="M651.4,734.6 v-1.4 a2.6,2.4 0 0 1 5.2,0 v1.4 z" fill="#fff" stroke="#444" stroke-width="0.6"/><rect x="651.2" y="734.7" width="5.6" height="1" fill="#222"/>
<path d="M657.4,736.1 v-1.4 a2.6,2.4 0 0 1 5.2,0 v1.4 z" fill="#fff" stroke="#444" stroke-width="0.6"/><rect x="657.2" y="736.2" width="5.6" height="1" fill="#222"/>
<path d="M929.4,640.6 v-1.4 a2.6,2.4 0 0 1 5.2,0 v1.4 z" fill="#fff" stroke="#444" stroke-width="0.6"/><rect x="929.2" y="640.7" width="5.6" height="1" fill="#222"/>
<path d="M1071.4,607.6 v-1.4 a2.6,2.4 0 0 1 5.2,0 v1.4 z" fill="#fff" stroke="#444" stroke-width="0.6"/><rect x="1071.2" y="607.7" width="5.6" height="1" fill="#222"/>
<path d="M917.4,729.6 v-1.4 a2.6,2.4 0 0 1 5.2,0 v1.4 z" fill="#fff" stroke="#444" stroke-width="0.6"/><rect x="917.2" y="729.7" width="5.6" height="1" fill="#222"/>
<path d="M1008.4,737.1 v-1.4 a2.6,2.4 0 0 1 5.2,0 v1.4 z" fill="#fff" stroke="#444" stroke-width="0.6"/><rect x="1008.2" y="737.2" width="5.6" height="1" fill="#222"/>
<path d="M1073.4,722.6 v-1.4 a2.6,2.4 0 0 1 5.2,0 v1.4 z" fill="#fff" stroke="#444" stroke-width="0.6"/><rect x="1073.2" y="722.7" width="5.6" height="1" fill="#222"/>
<path d="M793.9,764.1 v-1.4 a2.6,2.4 0 0 1 5.2,0 v1.4 z" fill="#fff" stroke="#444" stroke-width="0.6"/><rect x="793.7" y="764.2" width="5.6" height="1" fill="#222"/>
<path d="M1164.4,583.6 v-1.4 a2.6,2.4 0 0 1 5.2,0 v1.4 z" fill="#fff" stroke="#444" stroke-width="0.6"/><rect x="1164.2" y="583.7" width="5.6" height="1" fill="#222"/>
<path d="M1158.4,706.6 v-1.4 a2.6,2.4 0 0 1 5.2,0 v1.4 z" fill="#fff" stroke="#444" stroke-width="0.6"/><rect x="1158.2" y="706.7" width="5.6" height="1" fill="#222"/>
<path d="M1514.9,559.6 v-1.4 a2.6,2.4 0 0 1 5.2,0 v1.4 z" fill="#fff" stroke="#444" stroke-width="0.6"/><rect x="1514.7" y="559.7" width="5.6" height="1" fill="#222"/>
<path d="M1378.4,577.1 v-1.4 a2.6,2.4 0 0 1 5.2,0 v1.4 z" fill="#fff" stroke="#444" stroke-width="0.6"/><rect x="1378.2" y="577.2" width="5.6" height="1" fill="#222"/>
<path d="M1295.4,582.6 v-1.4 a2.6,2.4 0 0 1 5.2,0 v1.4 z" fill="#fff" stroke="#444" stroke-width="0.6"/><rect x="1295.2" y="582.7" width="5.6" height="1" fill="#222"/>
<path d="M1227.9,599.6 v-1.4 a2.6,2.4 0 0 1 5.2,0 v1.4 z" fill="#fff" stroke="#444" stroke-width="0.6"/><rect x="1227.7" y="599.7" width="5.6" height="1" fill="#222"/>
<path d="M1270.9,689.6 v-1.4 a2.6,2.4 0 0 1 5.2,0 v1.4 z" fill="#fff" stroke="#444" stroke-width="0.6"/><rect x="1270.7" y="689.7" width="5.6" height="1" fill="#222"/>
<path d="M1254.4,718.6 v-1.4 a2.6,2.4 0 0 1 5.2,0 v1.4 z" fill="#fff" stroke="#444" stroke-width="0.6"/><rect x="1254.2" y="718.7" width="5.6" height="1" fill="#222"/>
<path d="M1402.4,692.6 v-1.4 a2.6,2.4 0 0 1 5.2,0 v1.4 z" fill="#fff" stroke="#444" stroke-width="0.6"/><rect x="1402.2" y="692.7" width="5.6" height="1" fill="#222"/>
<path d="M1510.9,757.1 v-1.4 a2.6,2.4 0 0 1 5.2,0 v1.4 z" fill="#fff" stroke="#444" stroke-width="0.6"/><rect x="1510.7" y="757.2" width="5.6" height="1" fill="#222"/>
<path d="M151.4,859.6 v-1.4 a2.6,2.4 0 0 1 5.2,0 v1.4 z" fill="#fff" stroke="#444" stroke-width="0.6"/><rect x="151.2" y="859.7" width="5.6" height="1" fill="#222"/>
<path d="M13.4,949.6 v-1.4 a2.6,2.4 0 0 1 5.2,0 v1.4 z" fill="#fff" stroke="#444" stroke-width="0.6"/><rect x="13.2" y="949.7" width="5.6" height="1" fill="#222"/>
<path d="M141.4,953.6 v-1.4 a2.6,2.4 0 0 1 5.2,0 v1.4 z" fill="#fff" stroke="#444" stroke-width="0.6"/><rect x="141.2" y="953.7" width="5.6" height="1" fill="#222"/>
<path d="M284.4,1028.6 v-1.4 a2.6,2.4 0 0 1 5.2,0 v1.4 z" fill="#fff" stroke="#444" stroke-width="0.6"/><rect x="284.2" y="1028.7" width="5.6" height="1" fill="#222"/>
<path d="M374.9,811.1 v-1.4 a2.6,2.4 0 0 1 5.2,0 v1.4 z" fill="#fff" stroke="#444" stroke-width="0.6"/><rect x="374.7" y="811.2" width="5.6" height="1" fill="#222"/>
<path d="M476.4,870.6 v-1.4 a2.6,2.4 0 0 1 5.2,0 v1.4 z" fill="#fff" stroke="#444" stroke-width="0.6"/><rect x="476.2" y="870.7" width="5.6" height="1" fill="#222"/>
<path d="M684.4,879.6 v-1.4 a2.6,2.4 0 0 1 5.2,0 v1.4 z" fill="#fff" stroke="#444" stroke-width="0.6"/><rect x="684.2" y="879.7" width="5.6" height="1" fill="#222"/>
<path d="M417.9,1008.6 v-1.4 a2.6,2.4 0 0 1 5.2,0 v1.4 z" fill="#fff" stroke="#444" stroke-width="0.6"/><rect x="417.7" y="1008.7" width="5.6" height="1" fill="#222"/>
<path d="M663.4,981.6 v-1.4 a2.6,2.4 0 0 1 5.2,0 v1.4 z" fill="#fff" stroke="#444" stroke-width="0.6"/><rect x="663.2" y="981.7" width="5.6" height="1" fill="#222"/>
<path d="M647.4,1006.6 v-1.4 a2.6,2.4 0 0 1 5.2,0 v1.4 z" fill="#fff" stroke="#444" stroke-width="0.6"/><rect x="647.2" y="1006.7" width="5.6" height="1" fill="#222"/>
<path d="M469.4,1057.6 v-1.4 a2.6,2.4 0 0 1 5.2,0 v1.4 z" fill="#fff" stroke="#444" stroke-width="0.6"/><rect x="469.2" y="1057.7" width="5.6" height="1" fill="#222"/>
<path d="M761.4,954.6 v-1.4 a2.6,2.4 0 0 1 5.2,0 v1.4 z" fill="#fff" stroke="#444" stroke-width="0.6"/><rect x="761.2" y="954.7" width="5.6" height="1" fill="#222"/>
<path d="M854.9,965.6 v-1.4 a2.6,2.4 0 0 1 5.2,0 v1.4 z" fill="#fff" stroke="#444" stroke-width="0.6"/><rect x="854.7" y="965.7" width="5.6" height="1" fill="#222"/>
<path d="M817.4,862.6 v-1.4 a2.6,2.4 0 0 1 5.2,0 v1.4 z" fill="#fff" stroke="#444" stroke-width="0.6"/><rect x="817.2" y="862.7" width="5.6" height="1" fill="#222"/>
<path d="M913.4,866.6 v-1.4 a2.6,2.4 0 0 1 5.2,0 v1.4 z" fill="#fff" stroke="#444" stroke-width="0.6"/><rect x="913.2" y="866.7" width="5.6" height="1" fill="#222"/>
<path d="M999.4,875.6 v-1.4 a2.6,2.4 0 0 1 5.2,0 v1.4 z" fill="#fff" stroke="#444" stroke-width="0.6"/><rect x="999.2" y="875.7" width="5.6" height="1" fill="#222"/>
<path d="M1082.4,831.6 v-1.4 a2.6,2.4 0 0 1 5.2,0 v1.4 z" fill="#fff" stroke="#444" stroke-width="0.6"/><rect x="1082.2" y="831.7" width="5.6" height="1" fill="#222"/>
<path d="M997.4,960.6 v-1.4 a2.6,2.4 0 0 1 5.2,0 v1.4 z" fill="#fff" stroke="#444" stroke-width="0.6"/><rect x="997.2" y="960.7" width="5.6" height="1" fill="#222"/>
<path d="M1166.9,960.6 v-1.4 a2.6,2.4 0 0 1 5.2,0 v1.4 z" fill="#fff" stroke="#444" stroke-width="0.6"/><rect x="1166.7" y="960.7" width="5.6" height="1" fill="#222"/>
<path d="M1197.9,864.6 v-1.4 a2.6,2.4 0 0 1 5.2,0 v1.4 z" fill="#fff" stroke="#444" stroke-width="0.6"/><rect x="1197.7" y="864.7" width="5.6" height="1" fill="#222"/>
<path d="M1229.9,805.6 v-1.4 a2.6,2.4 0 0 1 5.2,0 v1.4 z" fill="#fff" stroke="#444" stroke-width="0.6"/><rect x="1229.7" y="805.7" width="5.6" height="1" fill="#222"/>
<path d="M1573.4,999.6 v-1.4 a2.6,2.4 0 0 1 5.2,0 v1.4 z" fill="#fff" stroke="#444" stroke-width="0.6"/><rect x="1573.2" y="999.7" width="5.6" height="1" fill="#222"/>
<path d="M1274.4,953.6 v-1.4 a2.6,2.4 0 0 1 5.2,0 v1.4 z" fill="#fff" stroke="#444" stroke-width="0.6"/><rect x="1274.2" y="953.7" width="5.6" height="1" fill="#222"/>
<text class="cb" x="224" y="17.5">Arkadelphia, AR</text>
<text class="cb" x="224" y="36.0">Micro Area</text>
<text class="cb" x="320" y="42.0">Camden, AR</text>
<text class="cb" x="320" y="60.5"></text>
<text class="cb" x="320" y="79.0">Area</text>
<text class="cb" x="468" y="25.5">Pine Bluff, AR</text>
<text class="cb" x="468" y="44.0">Metro Area</text>
<text class="cb" x="58" y="136.0">Texarkana,</text>
<text class="cb" x="58" y="154.5">TX-AR</text>
<text class="cb" x="58" y="173.0">Metro Area</text>
<text class="cb" x="179" y="212.5">Magnolia,</text>
<text class="cb" x="179" y="231.0">AR Micro Area</text>
<text class="cb" x="392" y="216.0">El Dorado,</text>
<text class="cb" x="392" y="234.5">AR Micro Area</text>
<text class="cb" x="796" y="56.5"></text>
<text class="cb" x="796" y="75.0">MS Micro</text>
<text class="cb" x="796" y="93.5">Area</text>
<text class="cb" x="875" y="100.0">Indianola,</text>
<text class="cb" x="875" y="118.5">MS Micro</text>
<text class="cb" x="875" y="137.0">Area</text>
<text class="cb" x="794" y="159.5">Greenville,</text>
<text class="cb" x="794" y="178.0">MS Micro</text>
<text class="cb" x="794" y="196.5">Area</text>
<text class="cb" x="1102" y="23.8">Grenada, MS</text>
<text class="cb" x="1102" y="42.2">Micro Area</text>
<text class="cb" x="1039" y="146.0">Greenwood,</text>
<text class="cb" x="1039" y="164.5">MS Micro Area</text>
<text class="cb" x="1333" y="136.0">Starkville, MS</text>
<text class="cb" x="1333" y="154.5">Micro Area</text>
<text class="cb" x="1441" y="136.0">Columbus,</text>
<text class="cb" x="1441" y="154.5">MS Micro</text>
<text class="cb" x="1441" y="173.0">Area</text>
<text class="cb" x="1535" y="214.0">Tuscaloosa,</text>
<text class="cb" x="1535" y="232.5">AL Metro</text>
<text class="cb" x="1535" y="251.0">Area</text>
<text class="cb" x="89" y="295.0">Shreveport-Bossier</text>
<text class="cb" x="89" y="313.5">City, LA</text>
<text class="cb" x="89" y="332.0">Metro Area</text>
<text class="cb" x="313" y="363.0">Ruston,</text>
<text class="cb" x="313" y="381.5">LA Micro</text>
<text class="cb" x="313" y="400.0">Area</text>
<text class="cb" x="433" y="370.0">Monroe, LA</text>
<text class="cb" x="433" y="388.5">Metro Area</text>
<text class="cb" x="571" y="296.5">Bastrop, LA</text>
<text class="cb" x="571" y="315.0">Micro Area</text>
<text class="cb" x="1388" y="369.0">Meridian, MS</text>
<text class="cb" x="1388" y="387.5">Micro Area</text>
<text class="cb" x="219" y="723.0">Natchitoches,</text>
<text class="cb" x="219" y="741.5">LA Micro Area</text>
<text class="cb" x="353" y="759.5">Alexandria, LA</text>
<text class="cb" x="353" y="778.0">Metro Area</text>
<text class="cb" x="602" y="750.5">Natchez,</text>
<text class="cb" x="602" y="769.0">MS-LA</text>
<text class="cb" x="602" y="787.5">Micro Area</text>
<text class="cb" x="800" y="577.0">Vicksburg,</text>
<text class="cb" x="800" y="595.5">MS Micro</text>
<text class="cb" x="800" y="614.0">Area</text>
<text class="cb" x="980" y="479.5">Jackson,</text>
<text class="cb" x="980" y="498.0">MS Metro</text>
<text class="cb" x="980" y="516.5">Area</text>
<text class="cb" x="924.5" y="750.5">Brookhaven,</text>
<text class="cb" x="924.5" y="769.0">MS Micro</text>
<text class="cb" x="924.5" y="787.5">Area</text>
<text class="cb" x="1283" y="533.0">Laurel, MS</text>
<text class="cb" x="1283" y="551.5">Micro Area</text>
<text class="cb" x="216" y="816.0">Fort Polk</text>
<text class="cb" x="216" y="834.5">South, LA</text>
<text class="cb" x="216" y="853.0">Micro Area</text>
<text class="cb" x="96" y="899.5">Beaumont-Port</text>
<text class="cb" x="96" y="918.0">Arthur,</text>
<text class="cb" x="96" y="936.5">TX Metro Area</text>
<text class="cb" x="139" y="987.0">DeRidder,</text>
<text class="cb" x="139" y="1005.5">LA Micro Area</text>
<text class="cb" x="639" y="925.5">Baton Rouge,</text>
<text class="cb" x="639" y="944.0">LA Metro Area</text>
<text class="cb" x="502.5" y="990.8">Opelousas,</text>
<text class="cb" x="502.5" y="1009.2">LA Micro</text>
<text class="cb" x="502.5" y="1027.8">Area</text>
<text class="cb" x="818" y="823.0">McComb, MS</text>
<text class="cb" x="818" y="841.5">Micro Area</text>
<text class="cb" x="1010" y="924.5">Bogalusa, LA</text>
<text class="cb" x="1010" y="943.0">Micro Area</text>
<text class="cb" x="927" y="990.8">Hammond,</text>
<text class="cb" x="927" y="1009.2">LA Metro</text>
<text class="cb" x="927" y="1027.8">Area</text>
<text class="cb" x="1042" y="1032.0">New Orleans-Metairie,</text>
<text class="cb" x="1042" y="1050.5">LA Metro Area</text>
<text class="cb" x="1148" y="983.0">Picayune, MS</text>
<text class="cb" x="1148" y="1001.5">Micro Area</text>
<text class="cb" x="1240" y="825.8">Hattiesburg,</text>
<text class="cb" x="1240" y="844.2">MS Metro Area</text>
<text class="cb" x="1548" y="869.5">Mobile, AL</text>
<text class="cb" x="1548" y="888.0">Metro Area</text>
<text class="cb" x="1347" y="1033.0">Gulfport-Biloxi-Pascagoula,</text>
<text class="cb" x="1347" y="1051.5">MS Metro Area</text>
<rect x="298" y="23" width="195" height="39" fill="#f1f0ec"/>
<text class="ti" x="306" y="50.5" textLength="180" lengthAdjust="spacingAndGlyphs">Vicksburg, MS</text>
<rect x="640" y="23" width="309" height="39" fill="#f1f0ec"/>
<text class="ti" x="646" y="50.5" textLength="295.5" lengthAdjust="spacingAndGlyphs">Commute Time by CBSA</text>
<rect x="1280" y="750" width="170" height="210" fill="#f1f0ec"/>
<text class="lg" x="1294" y="770" textLength="106" lengthAdjust="spacing">Time (minutes)</text>
<rect x="1293" y="776" width="44" height="22" fill="#fff" opacity="0.85"/><rect x="1294" y="777" width="42" height="20" fill="#7b1177"/>
<text class="lg" x="1342" y="793">Over 35</text>
<rect x="1293" y="800" width="44" height="22" fill="#fff" opacity="0.85"/><rect x="1294" y="801" width="42" height="20" fill="#8756a8"/>
<text class="lg" x="1342" y="817">29 - 35</text>
<rect x="1293" y="824" width="44" height="22" fill="#fff" opacity="0.85"/><rect x="1294" y="825" width="42" height="20" fill="#8993c5"/>
<text class="lg" x="1342" y="841">26 - 28</text>
<rect x="1293" y="848" width="44" height="22" fill="#fff" opacity="0.85"/><rect x="1294" y="849" width="42" height="20" fill="#9db8d9"/>
<text class="lg" x="1342" y="865">21 - 25</text>
<rect x="1293" y="872" width="44" height="22" fill="#fff" opacity="0.85"/><rect x="1294" y="873" width="42" height="20" fill="#bdd1e6"/>
<text class="lg" x="1342" y="889">15 - 20</text>
<rect x="1293" y="896" width="44" height="22" fill="#fff" opacity="0.85"/><rect x="1294" y="897" width="42" height="20" fill="#dde7eb"/>
<text class="lg" x="1342" y="913">Less than 15</text>
<rect x="1293.5" y="919.5" width="42" height="21" fill="#f1f0ec" stroke="#555" stroke-width="1"/>
<text class="lg" x="1342" y="937">No Data</text>
<text class="lg" x="1294" y="954" style="font-size:12px;fill:#777">- -</text>
<rect x="728" y="985" width="131" height="53" fill="#fff"/>
<text x="737" y="1020" style="font-family:'Liberation Sans',sans-serif;font-weight:bold;font-size:31px;fill:#0a84c6" textLength="101" lengthAdjust="spacingAndGlyphs">sperling</text>
<text x="840" y="1020" style="font-family:'Liberation Sans',sans-serif;font-weight:bold;font-size:31px;fill:#0a84c6" textLength="12.5" lengthAdjust="spacingAndGlyphs">s</text>
<text x="761" y="1029" style="font-family:'Liberation Sans',sans-serif;font-weight:bold;font-size:7.5px;fill:#8a8a8a" textLength="59" lengthAdjust="spacing">BEST PLACES</text>
<path d="M839.5,1002.5 l-4,-5.5 a4.5,4.5 0 1 1 8,0 z" fill="#5aa0d8"/><circle cx="839.5" cy="995" r="1.5" fill="#fff"/>
<rect x="0" y="0" width="1587" height="4" fill="#fff"/><rect x="0" y="0" width="4" height="1058" fill="#fff"/>
</svg></body></html>
